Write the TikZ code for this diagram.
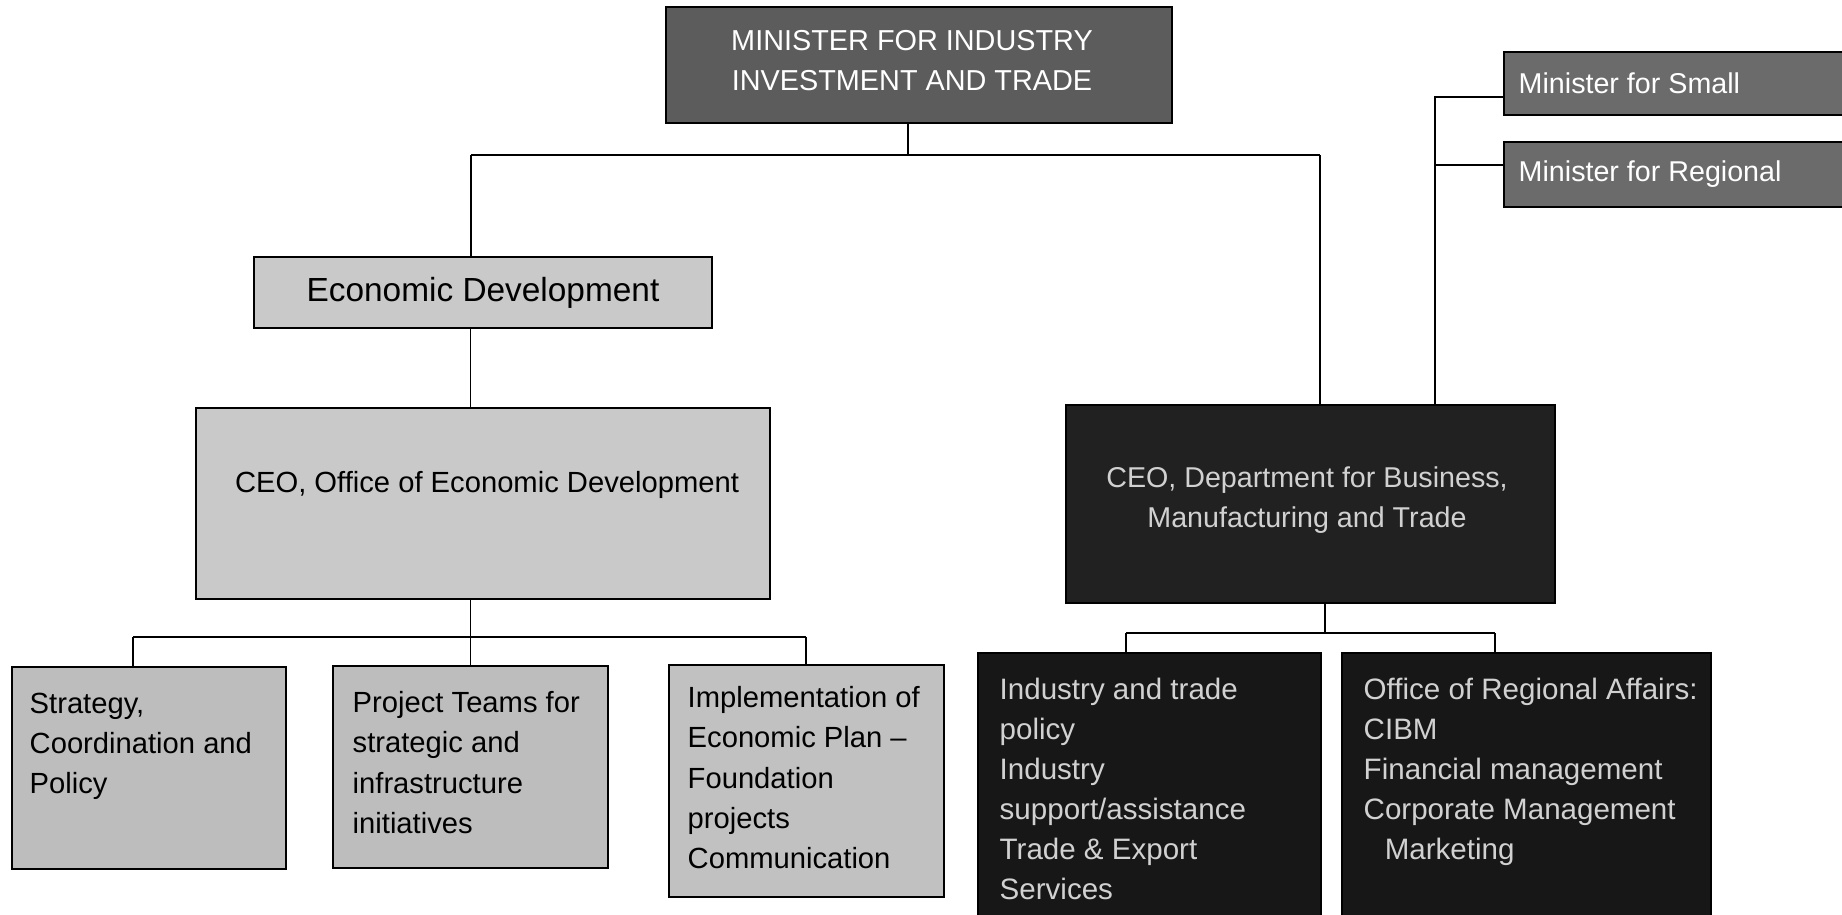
\documentclass[tikz,border=0pt]{standalone}
\usepackage{fontspec}
\setmainfont{Liberation Sans}
\usetikzlibrary{positioning}

\definecolor{minfill}{gray}{0.36}
\definecolor{smallfill}{gray}{0.42}
\definecolor{lightfill}{gray}{0.79}
\definecolor{midfill}{gray}{0.74}
\definecolor{darkfill}{gray}{0.13}
\definecolor{blackfill}{gray}{0.09}

\newcommand{\txt}[1]{\fontsize{#1}{11.4pt}\selectfont}

\tikzset{
  orgbox/.style={draw=black, line width=0.6pt, inner sep=0pt, rectangle},
  boxtext/.style={inner sep=0pt, align=left, anchor=north west, font=\txt{8.3pt}},
  darktext/.style={boxtext, text=white!82!black, font=\txt{8.4pt}},
  link/.style={line width=0.45pt}
}

\begin{document}
\begin{tikzpicture}[x=0.01cm, y=-0.01cm]
  \useasboundingbox (0,0) rectangle (1842,915);
  % ministers
  \node[orgbox, fill=minfill, minimum width=5.06cm, minimum height=1.16cm] (minister) at (919,65) {};
  \node[inner sep=0pt, align=center, text=white, font=\txt{8.2pt}] (ministerT) at (912,61)
    {MINISTER FOR INDUSTRY\\INVESTMENT AND TRADE};
  \node[orgbox, fill=smallfill, minimum width=3.76cm, minimum height=0.63cm] (small) at (1692,83.5) {};
  \node[inner sep=0pt, anchor=west, text=white, font=\txt{8.15pt}] (smallT) at (1518,83) {Minister for Small};
  \node[orgbox, fill=smallfill, minimum width=3.76cm, minimum height=0.65cm] (regional) at (1692,174.5) {};
  \node[inner sep=0pt, anchor=west, text=white, font=\txt{8.15pt}] (regionalT) at (1518,174) {Minister for Regional};
  % left branch
  \node[orgbox, fill=lightfill, minimum width=4.58cm, minimum height=0.71cm, font=\txt{9.5pt}] (econ) at (483,292.5)
    {Economic Development};
  \node[orgbox, fill=lightfill, minimum width=5.74cm, minimum height=1.91cm] (oed) at (483,503.5) {};
  \node[inner sep=0pt, font=\txt{8.3pt}] (oedT) at (487,485) {CEO, Office of Economic Development};
  \node[orgbox, fill=midfill, minimum width=2.74cm, minimum height=2.02cm] (strat) at (149,768) {};
  \node[orgbox, fill=midfill, minimum width=2.75cm, minimum height=2.02cm] (proj) at (470.5,767) {};
  \node[orgbox, fill=lightfill!96!black, minimum width=2.75cm, minimum height=2.32cm] (impl) at (806.5,781) {};
  \node[boxtext] (stratT) at (29,692) {Strategy,\\Coordination and\\Policy};
  \node[boxtext] (projT) at (352,691) {Project Teams for\\strategic and\\infrastructure\\initiatives};
  \node[boxtext] (implT) at (687,686) {Implementation of\\Economic Plan --\\Foundation\\projects\\Communication};
  % right branch
  \node[orgbox, fill=darkfill, minimum width=4.89cm, minimum height=1.98cm] (dbmt) at (1310.5,504) {};
  \node[inner sep=0pt, align=center, text=white!82!black, font=\txt{8.15pt}] (dbmtT) at (1307,500)
    {CEO, Department for Business,\\Manufacturing and Trade};
  \node[orgbox, fill=blackfill, minimum width=3.43cm, minimum height=2.72cm] (indpol) at (1149.5,789) {};
  \node[orgbox, fill=blackfill, minimum width=3.69cm, minimum height=2.72cm] (regaff) at (1526.5,789) {};
  \node[darktext] (indpolT) at (999,677)
    {Industry and trade\\policy\\Industry\\support/assistance\\Trade \& Export\\Services};
  \node[darktext] (regaffT) at (1363,677)
    {Office of Regional Affairs:\\CIBM\\Financial management\\Corporate Management\\\hspace*{6pt}Marketing};
  % connectors
  \coordinate (barAl) at (471,155);
  \coordinate (barAm) at (908,155);
  \coordinate (barAr) at (1320,155);
  \draw[link] (barAm |- minister.south) -- (barAm);
  \draw[link] (barAl) -- (barAr);
  \draw[link] (barAl) -- (barAl |- econ.north);
  \draw[link] (barAr) -- (barAr |- dbmt.north);
  \draw[link] (proj.north |- econ.south) -- (proj.north |- oed.north);
  \coordinate (barBl) at (133,637);
  \coordinate (barBr) at (806,637);
  \draw[link] (proj.north |- oed.south) -- (proj.north);
  \draw[link] (barBl) -- (barBr);
  \draw[link] (barBl) -- (barBl |- strat.north);
  \draw[link] (barBr) -- (barBr |- impl.north);
  \coordinate (barCl) at (1126,633);
  \coordinate (barCm) at (1325,633);
  \coordinate (barCr) at (1495,633);
  \draw[link] (barCm |- dbmt.south) -- (barCm);
  \draw[link] (barCl) -- (barCr);
  \draw[link] (barCl) -- (barCl |- indpol.north);
  \draw[link] (barCr) -- (barCr |- regaff.north);
  \coordinate (minJ) at (1435,97);
  \coordinate (minK) at (1435,165);
  \draw[link] (minJ |- dbmt.north) -- (minJ) -- (minJ -| small.west);
  \draw[link] (minK) -- (minK -| regional.west);
\end{tikzpicture}
\end{document}
